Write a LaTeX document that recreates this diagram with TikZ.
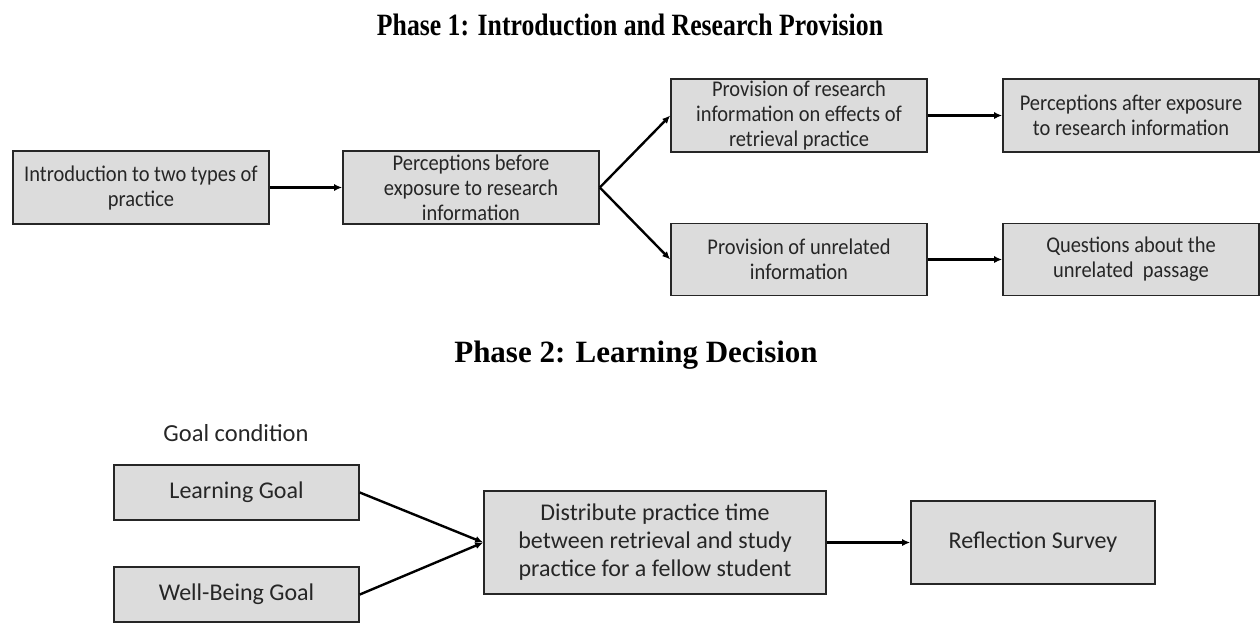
\documentclass[tikz,border=0pt]{standalone}
\usepackage{fontspec}
\setmainfont{Carlito}
\newfontfamily\stagefont[FakeStretch=0.91]{Carlito}
\newfontfamily\titlefont[FakeStretch=0.83]{Liberation Serif}
\newfontfamily\titlewide{Liberation Serif}
\usepackage{xcolor}
\usetikzlibrary{arrows.meta}

\definecolor{boxgray}{HTML}{DCDCDC}

\begin{document}
\begin{tikzpicture}[
  x=1pt, y=-1pt,
  every node/.style = {align=center},
  stage/.style = {draw=black!85, line width=1.6pt, fill=boxgray, inner sep=2pt, text=black!85,
    font=\stagefont\fontsize{22.5}{25}\selectfont, minimum width=256pt, minimum height=73pt},
  goalstage/.style = {stage, font=\fontsize{24}{28}\selectfont},
  phase/.style = {anchor=base, font=\bfseries\fontsize{31}{34}\selectfont},
  flow/.style = {draw, line width=2.4pt, -{Latex[length=8pt,width=7pt]}}
]
\useasboundingbox (0,0) rectangle (1260,622);

% Phase 1
\node[phase, font=\titlefont\bfseries\fontsize{31}{34}\selectfont] (title1) at (630,35)
  {Phase 1: Introduction and Research Provision};

\node[stage] (intro) at (141,187.5) {Introduction to two types of\\practice};
\node[stage] (before) at (471,187.5) {Perceptions before\\exposure to research\\information};
\node[stage] (research) at (799,115.5) {Provision of research\\information on effects of\\retrieval practice};
\node[stage] (after) at (1131,115.5) {Perceptions after exposure\\to research information};
\node[stage, minimum height=72pt] (unrelated) at (799,259.5) {Provision of unrelated\\information};
\node[stage, minimum height=72pt] (questions) at (1131,259.5) {Questions about the\\unrelated\ \ passage};

\draw[flow] (intro) -- (before);
\draw[flow] (before.east) -- (research.west);
\draw[flow] (before.east) -- (unrelated.west);
\draw[flow] (research) -- (after);
\draw[flow] (unrelated) -- (questions);

% Phase 2
\node[phase, font=\titlewide\bfseries\fontsize{31}{34}\selectfont] (title2) at (636,362)
  {Phase 2: Learning Decision};

\node[text=black!85, font=\fontsize{24.5}{28}\selectfont] (goals) at (236,433) {Goal condition};
\node[goalstage, minimum width=245pt, minimum height=55pt] (learning) at (236.5,492.5) {Learning Goal};
\node[goalstage, minimum width=245pt, minimum height=55pt] (wellbeing) at (236.5,594.5) {Well-Being Goal};
\node[goalstage, minimum width=342pt, minimum height=103pt] (distribute) at (655,542.5)
  {Distribute practice time\\between retrieval and study\\practice for a fellow student};
\node[goalstage, minimum width=244pt, minimum height=83pt] (reflection) at (1033,542.5) {Reflection Survey};

\draw[flow] (learning.east) -- (distribute.west);
\draw[flow] (wellbeing.east) -- (distribute.west);
\draw[flow] (distribute) -- (reflection);

\end{tikzpicture}
\end{document}
